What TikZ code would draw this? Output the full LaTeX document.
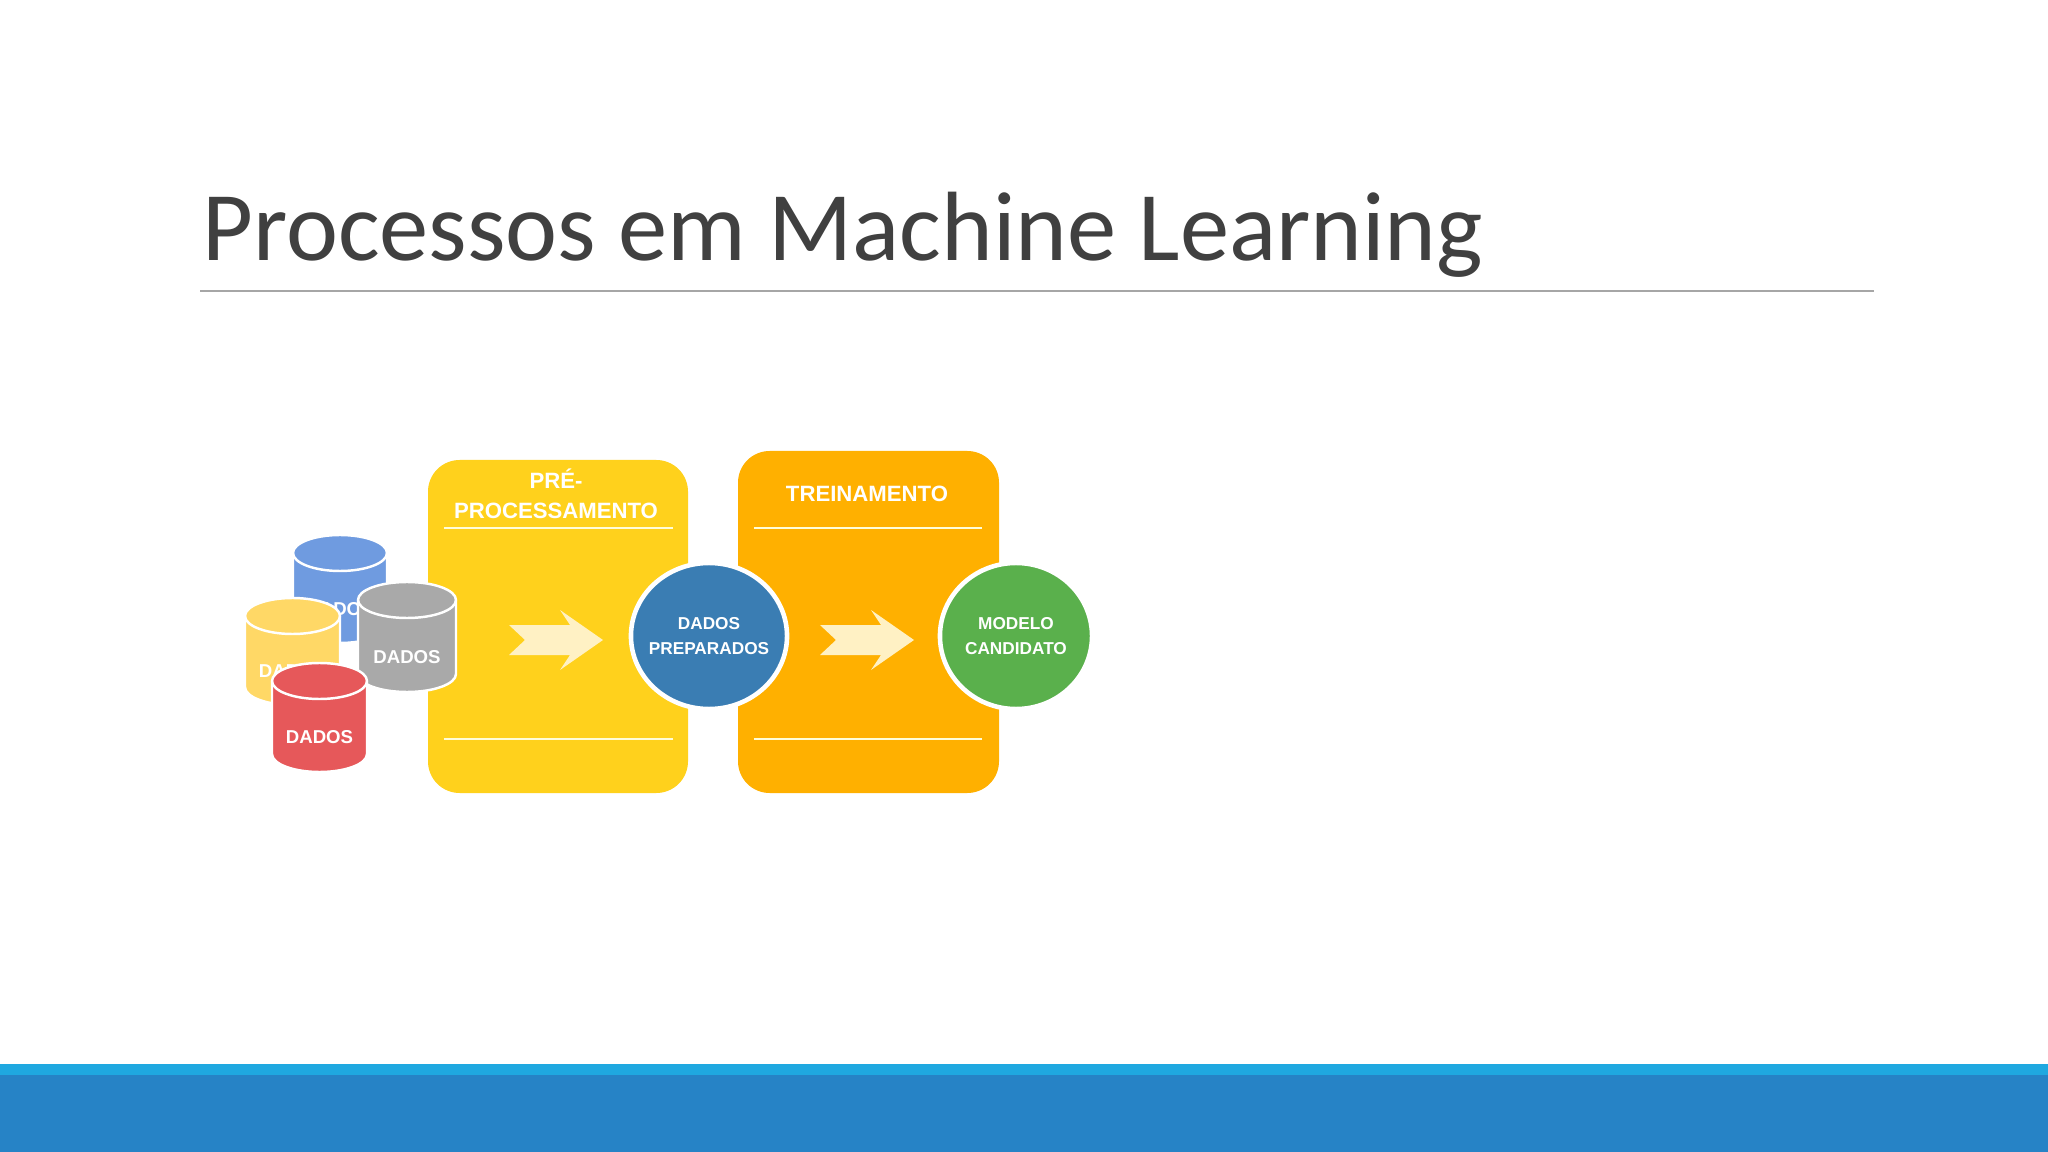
\documentclass[tikz,border=0pt]{standalone}
\usepackage{fontspec}
\setmainfont{Liberation Sans}
\newfontfamily\titlefont{Carlito}
\usetikzlibrary{shapes.geometric}
\definecolor{cyel}{HTML}{FFD11C}
\definecolor{cora}{HTML}{FFB000}
\definecolor{cblu}{HTML}{3A7DB3}
\definecolor{cgre}{HTML}{5AB04C}
\definecolor{cyl1}{HTML}{6F9BE0}
\definecolor{cyl2}{HTML}{FFD866}
\definecolor{cyl3}{HTML}{A9A9A9}
\definecolor{cyl4}{HTML}{E6585A}
\definecolor{barl}{HTML}{1FA8E0}
\definecolor{bard}{HTML}{2683C6}
\definecolor{cchev}{HTML}{FFF1C4}
\begin{document}
\begin{tikzpicture}[x=0.01cm,y=-0.01cm,
  lbl/.style={text=white,font=\bfseries\fontsize{6.3}{7.5}\selectfont,align=center,inner sep=0},
  small/.style={text=white,font=\bfseries\fontsize{4.9}{5.9}\selectfont,align=center,inner sep=0},
  sep/.style={draw=white!85!yellow,line width=0.6pt},
  chev/.style={fill=cchev},
  circ/.style={draw=white,line width=1.3pt,ellipse,minimum height=1.46cm,inner sep=0}]
\useasboundingbox (0,0) rectangle (2048,1152);
\fill[white] (0,0) rectangle (2048,1152);
\node[anchor=base west,inner sep=0,text=black!75,font=\titlefont\fontsize{28}{34}\selectfont] (title) at (202,261) {Processos em Machine Learning};
\draw[black!35,line width=0.5pt] (200,291) coordinate (r1) -- (1874,291) coordinate (r2);
\fill[barl] (0,1064) rectangle (2048,1075);
\fill[bard] (0,1075) rectangle (2048,1152);
% boxes
\fill[cyel,rounded corners=9pt] (428,460) rectangle (688,793);
\fill[cora,rounded corners=9pt] (738,451) rectangle (999,793);
\draw[sep] (444,528) -- (673,528); \draw[sep] (444,739) -- (673,739);
\draw[sep] (754,528) -- (982,528); \draw[sep] (754,739) -- (982,739);
\node[lbl] (pre) at (556,494) {PRÉ-\\[1pt]PROCESSAMENTO};
\node[lbl] (trein) at (867,494) {TREINAMENTO};
% chevrons
\fill[chev] (509,625) -- (525,640) -- (509,655) -- (570,655) -- (560,670) -- (603,640) -- (560,610) -- (570,625) -- cycle;
\fill[chev] (820,625) -- (836,640) -- (820,655) -- (881,655) -- (871,670) -- (914,640) -- (871,610) -- (881,625) -- cycle;
% circles
\node[circ,fill=cblu,minimum width=1.56cm] (prep) at (709,636) {};
\node[small] (prept) at (prep) {DADOS\\[1pt]PREPARADOS};
\node[circ,fill=cgre,minimum width=1.52cm] (cand) at (1016,636) {};
\node[small] (candt) at (cand) {MODELO\\[1pt]CANDIDATO};
% cylinders
\newcommand\mycyl[6]{%
 \pgfmathsetmacro\rx{(#2-#1)/2}\pgfmathsetmacro\xc{(#1+#2)/2}\pgfmathsetmacro\yc{(#3+#4)/2+20}%
 \fill[#5,draw=white,line width=0.7pt] (#1,#3) -- (#1,#4) arc[start angle=180,end angle=0,x radius=\rx,y radius=18] -- (#2,#3) arc[start angle=0,end angle=-180,x radius=\rx,y radius=18] -- cycle;
 \draw[white,line width=0.7pt] (#1,#3) arc[start angle=180,end angle=0,x radius=\rx,y radius=18];
 \node[small,font=\bfseries\fontsize{5.3}{6.3}\selectfont] (#6) at (\xc,\yc) {DADOS};}
\mycyl{293}{387}{553}{625}{cyl1}{d1}
\mycyl{245}{340}{616}{687}{cyl2}{d2}
\mycyl{358}{456}{600}{674}{cyl3}{d3}
\mycyl{272}{367}{681}{754}{cyl4}{d4}
\end{tikzpicture}
\end{document}
